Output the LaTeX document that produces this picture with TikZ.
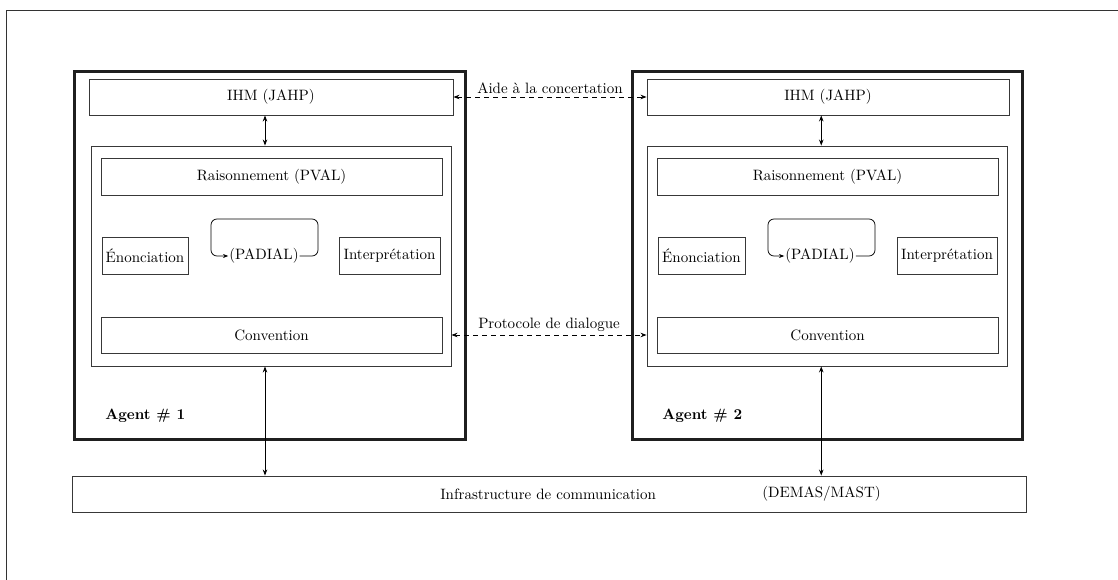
\documentclass[tikz,border=0pt]{standalone}
\usetikzlibrary{fit,arrows.meta}
\begin{document}
\begin{tikzpicture}[x=0.6667pt,y=-0.6667pt,
  frame/.style={draw=black!80,line width=0.6pt},
  agentbox/.style={draw=black!88,line width=2pt,inner sep=0pt},
  compbox/.style={draw=black!78,line width=0.6pt,inner sep=0pt,font=\normalsize},
  txt/.style={inner sep=0pt,font=\normalsize},
  darr/.style={{Stealth[length=4pt,width=3pt]}-{Stealth[length=4pt,width=3pt]},line width=0.5pt},
  dasharr/.style={darr,dashed},
  padloop/.style={-{Stealth[length=3.5pt,width=2.6pt]},line width=0.5pt,rounded corners=4pt}]
\useasboundingbox (0,0) rectangle (1118,580);
\draw[frame] (6,580) -- (6,10) -- (1118,10);

% Agent 1
\node[agentbox,fit={(74,72) (465,439)}] (agent1) {};
\node[compbox,fit={(89,79) (453,115)},label={center:IHM (JAHP)}] (ihm1) {};
\node[compbox,fit={(91,146) (451,366)}] (inner1) {};
\node[compbox,fit={(101,158) (442,195)},label={center:Raisonnement (PVAL)}] (rais1) {};
\node[compbox,fit={(102,237) (188,274)},label={center:Énonciation}] (enon1) {};
\node[compbox,fit={(339,237) (440,274)},label={center:Interprétation}] (interp1) {};
\node[txt,inner sep=0.5pt] (pad1) at (264,256) {(PADIAL)};
\node[compbox,fit={(101,317) (442,353)},label={center:Convention}] (conv1) {};
\node[txt,anchor=west,font=\bfseries] (lab1) at (105,416) {Agent \# 1};

% Agent 2
\node[agentbox,fit={(632,72) (1022,439)}] (agent2) {};
\node[compbox,fit={(647,79) (1009,115)},label={center:IHM (JAHP)}] (ihm2) {};
\node[compbox,fit={(647,146) (1007,366)}] (inner2) {};
\node[compbox,fit={(657,158) (998,195)},label={center:Raisonnement (PVAL)}] (rais2) {};
\node[compbox,fit={(658,237) (745,274)},label={center:Énonciation}] (enon2) {};
\node[compbox,fit={(897,237) (997,274)},label={center:Interprétation}] (interp2) {};
\node[txt,inner sep=0.5pt] (pad2) at (820,256) {(PADIAL)};
\node[compbox,fit={(657,317) (998,353)},label={center:Convention}] (conv2) {};
\node[txt,anchor=west,font=\bfseries] (lab2) at (662,416) {Agent \# 2};

% Infrastructure
\node[compbox,fit={(72,476) (1026,512)}] (infra) {};
\node[txt,anchor=west] (infratxt) at (440,494) {Infrastructure de communication};
\node[txt,anchor=west] (demas) at (762,494) {(DEMAS/MAST)};

% PADIAL loops
\draw[padloop] (pad1.east) -| (318,219) -- (211,219) |- (pad1.west);
\draw[padloop] (pad2.east) -| (875,219) -- (768,219) |- (pad2.west);

% vertical arrows
\coordinate (a1) at ([xshift=-4pt]ihm1.south);
\coordinate (a2) at ([xshift=-4.5pt]ihm2.south);
\draw[darr] (a1) -- (a1 |- inner1.north);
\draw[darr] (a2) -- (a2 |- inner2.north);
\draw[darr] (a1 |- inner1.south) -- (a1 |- infra.north);
\draw[darr] (a2 |- inner2.south) -- (a2 |- infra.north);

% dashed arrows between agents
\draw[dasharr] (ihm1.east) -- node[above,inner sep=2pt,font=\normalsize] {Aide à la concertation} (ihm2.west);
\draw[dasharr] (inner1.east |- conv1.east) -- node[above,inner sep=2pt,font=\normalsize] {Protocole de dialogue} (inner2.west |- conv2.west);
\end{tikzpicture}
\end{document}
